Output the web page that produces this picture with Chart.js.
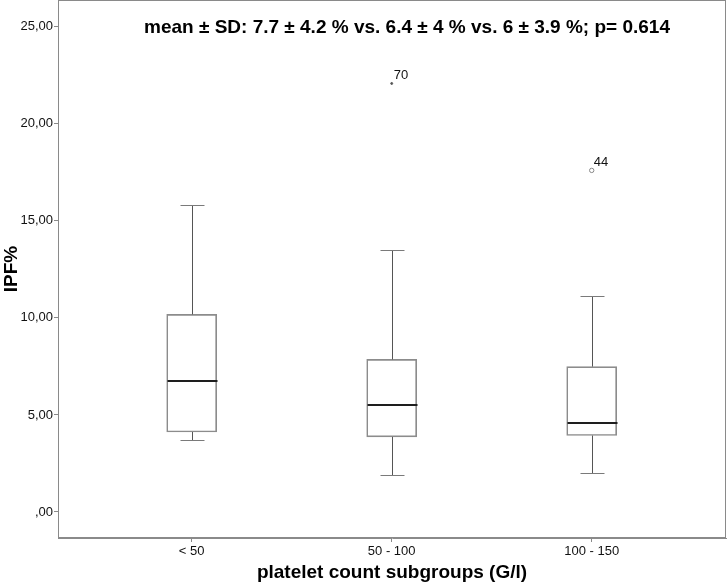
<!DOCTYPE html>
<html>
<head>
<meta charset="utf-8">
<script src="https://cdn.jsdelivr.net/npm/chart.js@4/dist/chart.umd.min.js"></script>
<style>
  html, body { margin: 0; padding: 0; background: #ffffff; }
  #wrap { width: 727px; height: 584px; }
</style>
</head>
<body>
<div id="wrap"><canvas id="c" width="727" height="584"></canvas></div>
<script>
// ---- data ----
const categories   = ['< 50', '50 - 100', '100 - 150'];
const whiskerLow   = [3.73, 1.93, 2.03];
const q1           = [4.12, 3.87, 3.94];
const median       = [6.75, 5.53, 4.61];
const q3           = [10.18, 7.86, 7.49];
const whiskerHigh  = [15.81, 13.49, 11.12];
const outlierGroup = [2, 3];          // 1-based category position
const outlierValue = [22.08, 17.60];
const outlierLabel = ['70', '44'];
const outlierStyle = ['extreme', 'outlier'];
const yTicks       = [0, 5, 10, 15, 20, 25];
const titleText    = 'mean \u00B1 SD: 7.7 \u00B1 4.2 % vs. 6.4 \u00B1 4 % vs. 6 \u00B1 3.9 %; p= 0.614';
const xTitle       = 'platelet count subgroups (G/l)';
const yTitle       = 'IPF%';

const FONT = '"Liberation Sans", Arial, sans-serif';

function fmtTick(v) {
  let s = Number(v).toFixed(2).replace('.', ',');
  if (s.startsWith('0,')) s = s.substring(1);
  return s;
}

const boxPlugin = {
  id: 'boxParts',
  afterDatasetsDraw(chart) {
    const ctx = chart.ctx;
    const xs = chart.scales.x, ys = chart.scales.y;
    const half = 25, cap = 12;
    ctx.save();
    categories.forEach((c, i) => {
      const cx = Math.round(xs.getPixelForValue(i + 1)) + 0.5;
      const yLo = Math.round(ys.getPixelForValue(whiskerLow[i])) + 0.5;
      const yQ1 = ys.getPixelForValue(q1[i]);
      const yQ3 = ys.getPixelForValue(q3[i]);
      const yHi = Math.round(ys.getPixelForValue(whiskerHigh[i])) + 0.5;
      const yMed = Math.round(ys.getPixelForValue(median[i]));
      ctx.strokeStyle = '#555555';
      ctx.lineWidth = 1;
      ctx.beginPath();
      ctx.moveTo(cx, yHi); ctx.lineTo(cx, yQ3);
      ctx.moveTo(cx, yQ1); ctx.lineTo(cx, yLo);
      ctx.stroke();
      ctx.strokeStyle = '#7a7a7a';
      ctx.beginPath();
      ctx.moveTo(cx - cap, yHi); ctx.lineTo(cx + cap, yHi);
      ctx.moveTo(cx - cap, yLo); ctx.lineTo(cx + cap, yLo);
      ctx.stroke();
      ctx.strokeStyle = '#1e1e1e';
      ctx.lineWidth = 2;
      ctx.beginPath();
      ctx.moveTo(cx - half, yMed); ctx.lineTo(cx + half, yMed);
      ctx.stroke();
    });
    ctx.fillStyle = '#111111';
    ctx.font = '13px ' + FONT;
    ctx.textAlign = 'left';
    ctx.textBaseline = 'alphabetic';
    outlierValue.forEach((v, i) => {
      const px = xs.getPixelForValue(outlierGroup[i]);
      const py = ys.getPixelForValue(v);
      ctx.fillText(outlierLabel[i], px + 2, py - 4);
    });
    ctx.restore();
  },
  afterDraw(chart) {
    const ctx = chart.ctx;
    const a = chart.chartArea;
    ctx.save();
    ctx.strokeStyle = '#8a8a8a';
    ctx.lineWidth = 1;
    ctx.strokeRect(Math.round(a.left) + 0.5, Math.round(a.top) + 0.5,
                   Math.round(a.right - a.left) - 1, Math.round(a.bottom - a.top) - 1);
    ctx.fillStyle = '#000000';
    ctx.font = 'bold 19px ' + FONT;
    ctx.textAlign = 'center';
    ctx.textBaseline = 'middle';
    ctx.fillText(titleText, 407, 28);
    ctx.restore();
  }
};

new Chart(document.getElementById('c'), {
  type: 'bar',
  data: {
    datasets: [
      {
        type: 'bar',
        data: categories.map((c, i) => ({ x: i + 1, y: [q1[i], q3[i]] })),
        backgroundColor: 'rgba(255,255,255,0)',
        borderColor: '#8c8c8c',
        borderWidth: 1,
        borderSkipped: false,
        barThickness: 50
      },
      {
        type: 'scatter',
        data: outlierValue.map((v, i) => ({ x: outlierGroup[i], y: v })),
        pointRadius: outlierStyle.map(s => s === 'extreme' ? 1 : 2.2),
        pointBackgroundColor: outlierStyle.map(s => s === 'extreme' ? '#555555' : '#ffffff'),
        pointBorderColor: outlierStyle.map(s => s === 'extreme' ? '#555555' : '#888888'),
        pointBorderWidth: 1
      }
    ]
  },
  options: {
    responsive: false,
    animation: false,
    devicePixelRatio: 1,
    layout: { autoPadding: false, padding: { top: 0, right: 1, bottom: 0, left: 0 } },
    plugins: { legend: { display: false }, tooltip: { enabled: false }, title: { display: false } },
    scales: {
      x: {
        type: 'linear',
        offset: false,
        min: 0.3315,
        max: 3.6715,
        afterBuildTicks(scale) { scale.ticks = categories.map((c, i) => ({ value: i + 1 })); },
        afterFit(scale) { scale.height = 46; scale.paddingLeft = 0; scale.paddingRight = 0; },
        border: { display: true, color: '#8a8a8a' },
        grid: { offset: false, drawOnChartArea: false, drawTicks: true, tickLength: 4, color: '#8a8a8a' },
        ticks: {
          autoSkip: false, maxRotation: 0, padding: 2,
          color: '#111111', font: { family: FONT, size: 13 },
          callback: (v) => categories[Math.round(v) - 1] || ''
        },
        title: {
          display: true, text: xTitle, color: '#000000',
          font: { family: FONT, size: 19, weight: 'bold' },
          padding: { top: 0, bottom: 0 }
        }
      },
      y: {
        type: 'linear',
        min: -1.34,
        max: 26.38,
        afterBuildTicks(scale) { scale.ticks = yTicks.map(v => ({ value: v })); },
        afterFit(scale) { scale.width = 58; scale.paddingTop = 0; scale.paddingBottom = 0; },
        border: { display: true, color: '#8a8a8a' },
        grid: { drawOnChartArea: false, drawTicks: true, tickLength: 4, color: '#8a8a8a' },
        ticks: {
          padding: 1, color: '#111111', font: { family: FONT, size: 13 },
          callback: (v) => fmtTick(v)
        },
        title: {
          display: true, text: yTitle, color: '#000000',
          font: { family: FONT, size: 19, weight: 'bold' },
          padding: { top: 0, bottom: 0 }
        }
      }
    }
  },
  plugins: [boxPlugin]
});
</script>
</body>
</html>
